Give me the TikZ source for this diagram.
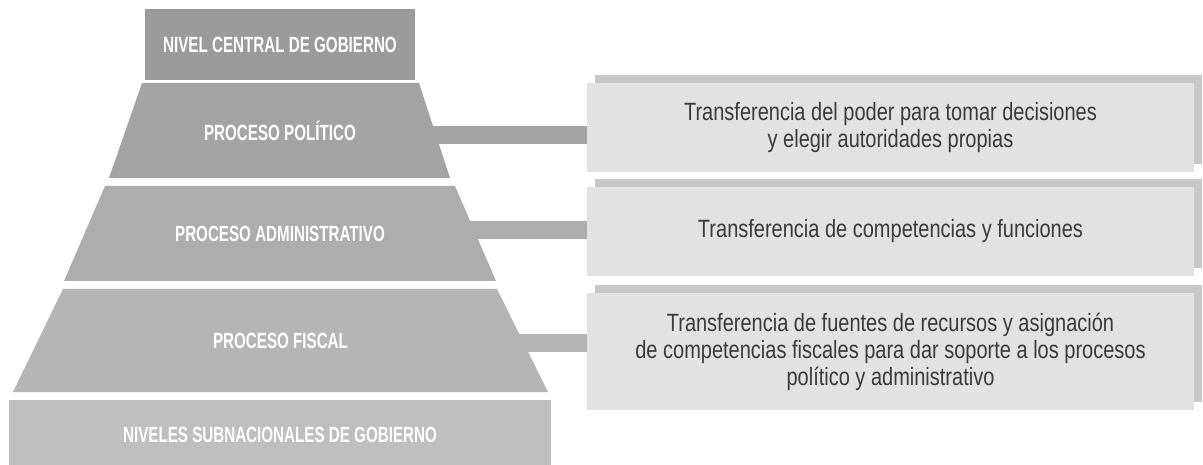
\documentclass[tikz,border=0pt]{standalone}
\usepackage{fontspec}
\setmainfont{Liberation Sans}
\newfontfamily\capsfont[FakeStretch=0.69]{Liberation Sans}
\newfontfamily\boxfont[FakeStretch=0.80]{Liberation Sans}
\usetikzlibrary{shadows}
\usetikzlibrary{backgrounds}
\definecolor{gris1}{HTML}{9B9B9B}
\definecolor{gris2}{HTML}{A4A4A4}
\definecolor{gris3}{HTML}{ADADAD}
\definecolor{gris4}{HTML}{B5B5B5}
\definecolor{gris5}{HTML}{BFBFBF}
\definecolor{cajagris}{HTML}{E2E2E2}
\definecolor{sombragris}{HTML}{C8C8C8}
\definecolor{letragris}{HTML}{3A3A3A}
\tikzset{
  nivel/.style={rectangle, inner sep=0pt, outer sep=0pt, text=white,
    font=\capsfont\bfseries\fontsize{22}{24}\selectfont},
  etiqueta/.style={inner sep=0pt, text=white,
    font=\capsfont\bfseries\fontsize{22}{24}\selectfont},
  caja/.style={rectangle, fill=cajagris, inner sep=0pt, outer sep=0pt,
    minimum width=607pt, align=center, text=letragris,
    font=\boxfont\fontsize{25}{27}\selectfont,
    drop shadow={shadow xshift=8pt, shadow yshift=8pt, fill=sombragris, opacity=1}},
  barra/.style={line width=18pt}
}

\begin{document}
\begin{tikzpicture}[x=1pt,y=-1pt]
  \useasboundingbox (0,0) rectangle (1203,465);

  % piramide
  \node[nivel, fill=gris1, minimum width=270pt, minimum height=71pt] (central) at (280,44.5) {NIVEL CENTRAL DE GOBIERNO};
  \fill[gris2] (142,83) -- (419,83) -- (450,178) -- (109,178) -- cycle;
  \fill[gris3] (105,186) -- (455,186) -- (496,281) -- (64,281) -- cycle;
  \fill[gris4] (63,289) -- (497,289) -- (548,392) -- (13,392) -- cycle;
  \node[etiqueta] (politico) at (280,130.5) {PROCESO POLÍTICO};
  \node[etiqueta] (admin) at (280,233.5) {PROCESO ADMINISTRATIVO};
  \node[etiqueta] (fiscal) at (280.5,340.5) {PROCESO FISCAL};
  \node[nivel, fill=gris5, minimum width=542pt, minimum height=70pt] (subnac) at (280,435) {NIVELES SUBNACIONALES DE GOBIERNO};

  % cajas
  \node[caja, minimum height=89pt] (t1) at (890.5,127.5) {Transferencia del poder para tomar decisiones\\y elegir autoridades propias};
  \node[caja, minimum height=89pt] (t2) at (890.5,231.5) {Transferencia de competencias y funciones};
  \node[caja, minimum height=117pt] (t3) at (890.5,351.5) {Transferencia de fuentes de recursos y asignación\\de competencias fiscales para dar soporte a los procesos\\político y administrativo};

  % barras
  \begin{scope}[on background layer]
    \path (politico.center) ++(0,4.5) coordinate (p1);
    \path (admin.center) ++(0,-3.5) coordinate (p2);
    \path (fiscal.center) ++(0,2.5) coordinate (p3);
    \draw[barra, draw=gris2] (p1) -- (p1 -| t1.west);
    \draw[barra, draw=gris3] (p2) -- (p2 -| t2.west);
    \draw[barra, draw=gris4] (p3) -- (p3 -| t3.west);
  \end{scope}
\end{tikzpicture}
\end{document}
